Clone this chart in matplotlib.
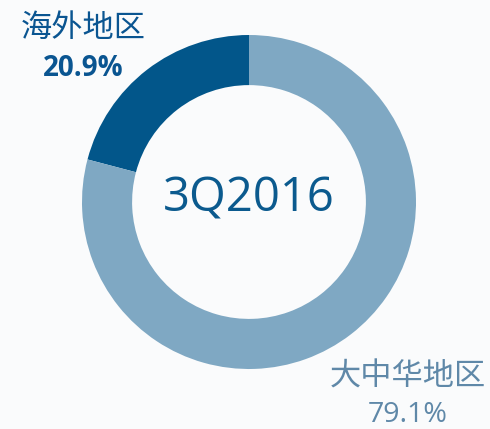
import matplotlib
matplotlib.use("Agg")
import matplotlib.pyplot as plt

plt.rcParams['font.family'] = ['Noto Sans CJK SC', 'DejaVu Sans']

labels = ['海外地区', '大中华地区']
shares = [20.9, 79.1]
pct_labels = ['20.9%', '79.1%']
colors = ['#02568A', '#7FA8C3']
center_label = '3Q2016'

W, H = 490, 429
bg = '#FAFBFC'
fig = plt.figure(figsize=(W / 100, H / 100), dpi=100, facecolor=bg)

# donut centred at (249, 202) px, outer radius 167 px
cx, cy, r = 249, 202, 167
ax = fig.add_axes([(cx - r) / W, (H - cy - r) / H, 2 * r / W, 2 * r / H])
ax.set_facecolor(bg)
ax.pie(shares, colors=colors, startangle=90, counterclock=True, radius=1,
       wedgeprops=dict(width=0.30, edgecolor='none'))
ax.set_xlim(-1, 1)
ax.set_ylim(-1, 1)
ax.set_aspect('equal')
ax.axis('off')

ax.text(0, 0.02, center_label, ha='center', va='center', fontsize=34,
        color='#0B5A8E', family=['Open Sans', 'DejaVu Sans'])

def fx(x):
    return x / W

def fy(y):
    return 1 - y / H

fig.text(fx(83), fy(28), labels[0], ha='center', va='center', fontsize=22.5,
         color='#0A5591')
fig.text(fx(83), fy(68), pct_labels[0], ha='center', va='center', fontsize=20,
         color='#0A5591', fontweight='bold', family=['Open Sans', 'DejaVu Sans'])
fig.text(fx(408), fy(377), labels[1], ha='center', va='center', fontsize=22.5,
         color='#5F88A8', fontweight='light')
fig.text(fx(408), fy(415), pct_labels[1], ha='center', va='center', fontsize=20.5,
         color='#5F88A8', family=['Open Sans', 'DejaVu Sans'])

fig.savefig('out.png', dpi=100, facecolor=bg)
